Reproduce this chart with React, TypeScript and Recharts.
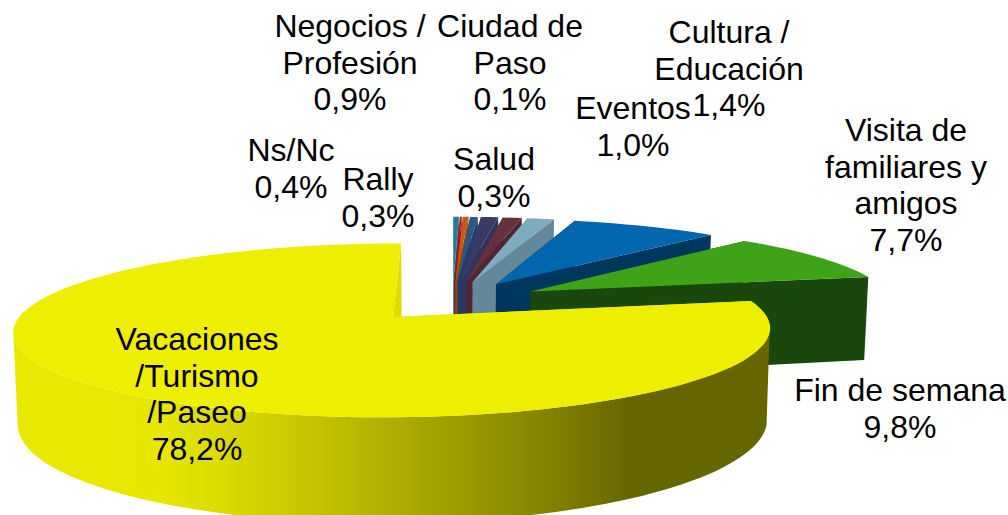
import { PieChart, Pie } from 'recharts'

// clockwise from 12 o'clock, same order as the original slices
const names = [
  'Rally',
  'Ciudad de\nPaso',
  'Salud',
  'Ns/Nc',
  'Negocios /\nProfesión',
  'Eventos',
  'Cultura /\nEducación',
  'Visita de\nfamiliares y\namigos',
  'Fin de semana',
  'Vacaciones\n/Turismo\n/Paseo',
]
const values = [0.3, 0.1, 0.3, 0.4, 0.9, 1.0, 1.4, 7.7, 9.8, 78.2]
const topColors = ['#1f7f9b', '#c00f14', '#c55a11', '#2a5788', '#3a3a66', '#66303f', '#7eacbf', '#0066ae', '#3fa318', '#eeee00']
const sideColors = ['#1a6a82', '#8f1014', '#9c480e', '#223f6a', '#2e3560', '#4e2733', '#64889a', '#00375f', '#1a470b', '#dcdc00']
const outerColors = ['#1a6a82', '#8f1014', '#9c480e', '#223f6a', '#2e3560', '#4e2733', '#64889a', '#00375f', '#1a470b', 'url(#yellowSide)']

// label anchors: centre x and first baseline
const labelX = [378, 510, 494, 291, 350, 633, 729, 906, 900, 197]
const labelY = [190, 37, 170, 161, 37, 119, 43, 141, 401, 350]

const LINE_HEIGHT = 36.7
const FONT = '"Liberation Sans", Arial, sans-serif'

const data = names.map((name, i) => ({ name, value: values[i] }))

// perspective view of the flat pie
const EXPLODE = 0.25
const SQUASH = 0.2204
const PERSP = 0.15
const DEPTH = 87

function Slice3D(props: any) {
  const { cx, cy, outerRadius, startAngle, endAngle, index } = props
  const mid = (((startAngle + endAngle) / 2) * Math.PI) / 180
  const ox = Math.cos(mid) * EXPLODE
  const oy = Math.sin(mid) * EXPLODE

  const point = (deg: number, r: number, down: boolean) => {
    const a = (deg * Math.PI) / 180
    const U = Math.cos(a) * r + ox
    const V = Math.sin(a) * r + oy
    const w = 1 + PERSP * V
    let x = (outerRadius * U) / w
    const y = (-outerRadius * SQUASH * V) / w + (down ? DEPTH / w : 0)
    if (down) x *= 0.99
    return [cx + x, cy + y]
  }
  const path = (pts: number[][]) =>
    'M' + pts.map((p) => p[0].toFixed(1) + ',' + p[1].toFixed(1)).join('L') + 'Z'

  const arc: number[] = []
  const steps = Math.max(2, Math.ceil(Math.abs(endAngle - startAngle) / 2))
  for (let s = 0; s <= steps; s++) arc.push(startAngle + ((endAngle - startAngle) * s) / steps)

  const radial = (deg: number) =>
    path([point(deg, 0, false), point(deg, 1, false), point(deg, 1, true), point(deg, 0, true)])

  // the rim shows between the widest points of the outline, about 10deg below horizontal
  const front = arc.filter((d) => Math.sin((d * Math.PI) / 180) <= -0.17)
  const rim = front.length > 1
    ? path([...front.map((d) => point(d, 1, false)), ...[...front].reverse().map((d) => point(d, 1, true))])
    : null

  const top = path([point(0, 0, false), ...arc.map((d) => point(d, 1, false))])

  return (
    <g>
      <path d={radial(startAngle)} fill={sideColors[index]} />
      <path d={radial(endAngle)} fill={sideColors[index]} />
      {rim && <path d={rim} fill={outerColors[index]} />}
      <path d={top} fill={topColors[index]} />
    </g>
  )
}

function sliceLabel(props: any) {
  const i = props.index
  const pct = values[i].toFixed(1).replace('.', ',') + '%'
  const lines = [...names[i].split('\n'), pct]
  return (
    <text key={i} x={labelX[i]} y={labelY[i]} textAnchor="middle" fontFamily={FONT} fontSize={32} fill="#000">
      {lines.map((line, j) => (
        <tspan key={j} x={labelX[i]} y={labelY[i] + j * LINE_HEIGHT}>
          {line}
        </tspan>
      ))}
    </text>
  )
}

export default function App() {
  return (
    <div style={{ position: 'absolute', left: 0, top: 0, width: 1008, height: 515, overflow: 'hidden', background: '#fff' }}>
      <PieChart width={1008} height={515} margin={{ top: 0, right: 0, bottom: 0, left: 0 }}>
        <defs>
          <linearGradient id="yellowSide" gradientUnits="userSpaceOnUse" x1="12" y1="0" x2="770" y2="0">
            <stop offset="0" stopColor="#e9e900" />
            <stop offset="0.2" stopColor="#e6e600" />
            <stop offset="0.33" stopColor="#d2d200" />
            <stop offset="0.51" stopColor="#adad00" />
            <stop offset="0.72" stopColor="#808000" />
            <stop offset="0.815" stopColor="#666600" />
            <stop offset="1" stopColor="#666600" />
          </linearGradient>
        </defs>
        <Pie
          data={data}
          dataKey="value"
          nameKey="name"
          cx={452.5}
          cy={301}
          innerRadius={0}
          outerRadius={363}
          startAngle={90}
          endAngle={-270}
          stroke="none"
          shape={Slice3D}
          label={sliceLabel}
          labelLine={false}
          isAnimationActive={false}
        />
      </PieChart>
    </div>
  )
}
